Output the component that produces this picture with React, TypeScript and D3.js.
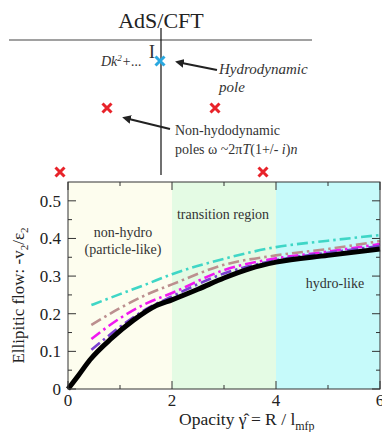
import * as d3 from 'd3';

// opacity values (x) and elliptic flow (y)
const blackX = [0, 0.2, 0.42, 0.84, 1.26, 1.7, 2, 2.5, 3, 3.5, 4, 5, 6];
const blackY = [0, 0.036, 0.077, 0.135, 0.183, 0.222, 0.237, 0.265, 0.295, 0.32, 0.337, 0.355, 0.372];

const curveX = [0.45, 1, 1.5, 2, 3, 4, 5, 6];
const cyanY = [0.223, 0.252, 0.278, 0.305, 0.346, 0.377, 0.394, 0.409];
const brownY = [0.17, 0.215, 0.25, 0.278, 0.33, 0.355, 0.372, 0.393];
const magentaY = [0.133, 0.188, 0.227, 0.255, 0.316, 0.347, 0.365, 0.385];
const purpleY = [0.104, 0.165, 0.212, 0.246, 0.307, 0.342, 0.362, 0.38];

const regionEdges = [0, 2, 4, 6];
const regionColors = ['#fdfdee', '#e4fbe4', '#c6fafa'];
const xTicks = [0, 2, 4, 6];
const xMinor = [1, 3, 5];
const yTicks = [0, 0.1, 0.2, 0.3, 0.4, 0.5];

// poles in the complex plane sketch
const redPoles = [[107, 108], [215, 108], [60, 172], [263, 172]];

export default function App() {
  const width = 382;
  const height = 432;
  const plot = { left: 68, right: 380, top: 182, bottom: 389 };

  const xScale = d3.scaleLinear().domain([0, 6]).range([plot.left, plot.right]);
  const yScale = d3.scaleLinear().domain([0, 0.55]).range([plot.bottom, plot.top]);

  const line = d3.line<[number, number]>()
    .x(d => xScale(d[0]))
    .y(d => yScale(d[1]))
    .curve(d3.curveMonotoneX);

  const series = [
    { y: cyanY, color: '#3fd6c6' },
    { y: brownY, color: '#bc8f8f' },
    { y: magentaY, color: '#f018f0' },
    { y: purpleY, color: '#7a3fd0' },
  ];

  const yMinor = d3.range(0.05, 0.55, 0.1);
  const serif = '"Liberation Serif", "DejaVu Serif", serif';

  const cross = (cx: number, cy: number, s: number, color: string, key: string) => (
    <path key={key} d={`M${cx - s},${cy - s}L${cx + s},${cy + s}M${cx + s},${cy - s}L${cx - s},${cy + s}`}
      stroke={color} strokeWidth={3} />
  );

  return (
    <svg width={width} height={height} style={{ position: 'absolute', left: 0, top: 0, background: '#fff' }}
      fontFamily={serif}>
      <defs>
        <marker id="arr" viewBox="0 0 10 10" refX={2} refY={5} markerWidth={4} markerHeight={4} orient="auto-start-reverse">
          <path d="M0,0L10,5L0,10z" fill="#222" />
        </marker>
      </defs>

      {/* complex plane sketch */}
      <text x={161} y={28} textAnchor="middle" fontSize={22} fill="#222">AdS/CFT</text>
      <line x1={9} x2={312} y1={40} y2={40} stroke="#444" strokeWidth={1.2} />
      <line x1={161} x2={161} y1={28} y2={175} stroke="#111" strokeWidth={1.2} />
      <text x={101} y={66} fontSize={14} fontStyle="italic" fill="#333">Dk<tspan fontSize={9} dy={-5}>2</tspan><tspan dy={5}>+...</tspan></text>
      <text x={152} y={58} fontSize={19} fill="#333" textAnchor="middle">I</text>
      {cross(160, 61, 4.5, '#2aa8e0', 'blue')}
      <line x1={217} x2={182} y1={70} y2={63} stroke="#222" strokeWidth={2.2} markerEnd="url(#arr)" />
      <text x={219} y={74} fontSize={15} fontStyle="italic" fill="#333">Hydrodynamic</text>
      <text x={219} y={92} fontSize={15} fontStyle="italic" fill="#333">pole</text>
      {redPoles.map((p, i) => cross(p[0], p[1], 4.5, '#e8232a', `r${i}`))}
      <line x1={170} x2={129} y1={129} y2={119} stroke="#222" strokeWidth={2.2} markerEnd="url(#arr)" />
      <text x={175} y={135} fontSize={14} fill="#333">Non-hydodynamic</text>
      <text x={175} y={154} fontSize={14} fill="#333">poles ω ~2π<tspan fontStyle="italic">T</tspan>(1+/- <tspan fontStyle="italic">i</tspan>)<tspan fontStyle="italic">n</tspan></text>

      {/* region backgrounds */}
      {regionColors.map((c, i) => (
        <rect key={i} x={xScale(regionEdges[i])} y={plot.top}
          width={xScale(regionEdges[i + 1]) - xScale(regionEdges[i])} height={plot.bottom - plot.top} fill={c} />
      ))}

      {/* curves */}
      {series.map((s, i) => (
        <path key={i} d={line(curveX.map((x, j) => [x, s.y[j]] as [number, number])) || ''}
          fill="none" stroke={s.color} strokeWidth={2.6} strokeDasharray="11,4,2.5,4" />
      ))}
      <path d={line(blackX.map((x, j) => [x, blackY[j]] as [number, number])) || ''}
        fill="none" stroke="#000" strokeWidth={5} />

      {/* frame and ticks */}
      <rect x={plot.left} y={plot.top} width={plot.right - plot.left} height={plot.bottom - plot.top}
        fill="none" stroke="#333" strokeWidth={1} />
      {xTicks.map(t => (
        <g key={`xt${t}`}>
          <line x1={xScale(t)} x2={xScale(t)} y1={plot.bottom} y2={plot.bottom - 8} stroke="#333" />
          <line x1={xScale(t)} x2={xScale(t)} y1={plot.top} y2={plot.top + 8} stroke="#333" />
          <text x={xScale(t)} y={plot.bottom + 17} textAnchor="middle" fontSize={17} fill="#222">{t}</text>
        </g>
      ))}
      {xMinor.map(t => (
        <g key={`xm${t}`}>
          <line x1={xScale(t)} x2={xScale(t)} y1={plot.bottom} y2={plot.bottom - 4} stroke="#333" />
          <line x1={xScale(t)} x2={xScale(t)} y1={plot.top} y2={plot.top + 4} stroke="#333" />
        </g>
      ))}
      {yTicks.map(t => (
        <g key={`yt${t}`}>
          <line x1={plot.left} x2={plot.left + 8} y1={yScale(t)} y2={yScale(t)} stroke="#333" />
          <line x1={plot.right} x2={plot.right - 8} y1={yScale(t)} y2={yScale(t)} stroke="#333" />
          <text x={plot.left - 7} y={yScale(t) + 6} textAnchor="end" fontSize={17} fill="#222">
            {t === 0 ? '0' : d3.format('.1f')(t)}
          </text>
        </g>
      ))}
      {yMinor.map(t => (
        <g key={`ym${t}`}>
          <line x1={plot.left} x2={plot.left + 4} y1={yScale(t)} y2={yScale(t)} stroke="#333" />
          <line x1={plot.right} x2={plot.right - 4} y1={yScale(t)} y2={yScale(t)} stroke="#333" />
        </g>
      ))}

      {/* region labels */}
      <text x={123} y={237} textAnchor="middle" fontSize={14} fill="#333">non-hydro</text>
      <text x={123} y={254} textAnchor="middle" fontSize={14} fill="#333">(particle-like)</text>
      <text x={223} y={219} textAnchor="middle" fontSize={14} fill="#333">transition region</text>
      <text x={335} y={288} textAnchor="middle" fontSize={14} fill="#333">hydro-like</text>

      {/* axis labels */}
      <text x={179} y={425} fontSize={17.5} fill="#222">Opacity  γ̂ = R / l<tspan fontSize={12} dy={5}>mfp</tspan></text>
      <text transform={`translate(24,${(plot.top + plot.bottom) / 2 + 10}) rotate(-90)`} textAnchor="middle"
        fontSize={17} fill="#222">
        Ellipitic flow: -v<tspan fontSize={11} dy={4}>2</tspan><tspan dy={-4}>/ε</tspan><tspan fontSize={11} dy={4}>2</tspan>
      </text>
    </svg>
  );
}
